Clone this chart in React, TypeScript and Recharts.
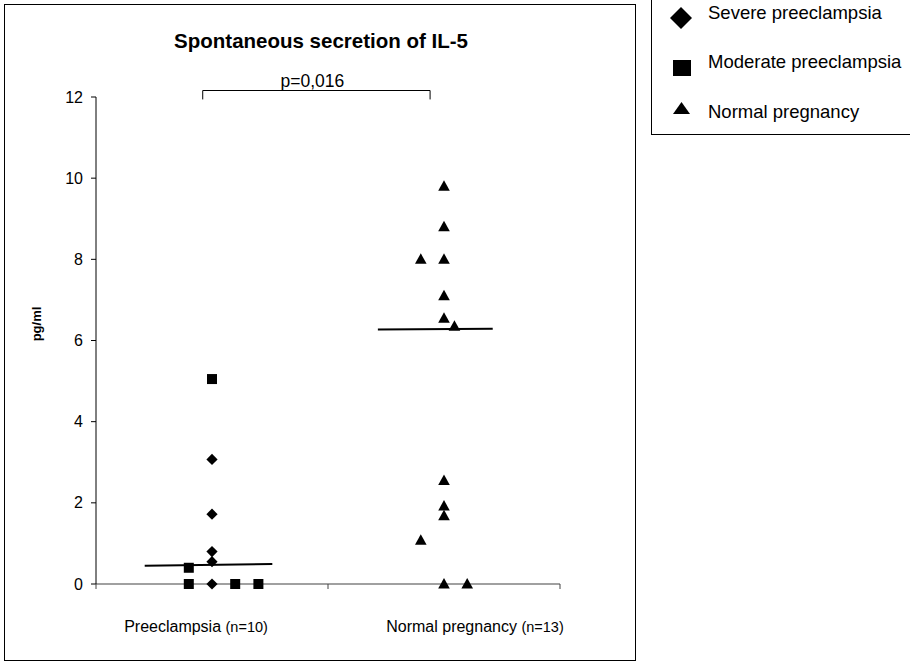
import React from 'react';
import { ScatterChart, Scatter, XAxis, YAxis, ReferenceLine } from 'recharts';

const FONT = '"Liberation Sans", Arial, Helvetica, sans-serif';

const categories = ['Preeclampsia', 'Normal pregnancy'];
const groupSizes = ['(n=10)', '(n=13)'];
const yTicks = [0, 2, 4, 6, 8, 10, 12];
const xTicks = [0, 0.5, 1, 1.5, 2];
const seriesNames = ['Severe preeclampsia', 'Moderate preeclampsia', 'Normal pregnancy'];
const titleText = 'Spontaneous secretion of IL-5';
const yLabel = 'pg/ml';
const pValue = 'p=0,016';

// group index, horizontal jitter within group (category units), value (pg/ml)
const severeGroup = [0, 0, 0, 0, 0];
const severeJitter = [0, 0, 0, 0, 0];
const severeValues = [3.07, 1.72, 0.8, 0.55, 0];

const moderateGroup = [0, 0, 0, 0, 0];
const moderateJitter = [0, -0.1, -0.1, 0.1, 0.2];
const moderateValues = [5.05, 0.4, 0, 0, 0];

const normalGroup = [1, 1, 1, 1, 1, 1, 1, 1, 1, 1, 1, 1, 1];
const normalJitter = [0, 0, -0.1, 0, 0, 0, 0.045, 0, 0, 0, -0.1, 0, 0.1];
const normalValues = [9.8, 8.8, 8.0, 8.0, 7.1, 6.55, 6.35, 2.55, 1.92, 1.68, 1.08, 0, 0];

// median lines: group, start/end jitter, value at start/end
const medianGroup = [0, 1];
const medianFrom = [-0.29, -0.285];
const medianTo = [0.26, 0.21];
const medianStart = [0.45, 6.27];
const medianEnd = [0.49, 6.29];

// significance bracket between groups
const bracketFrom = 0.46;
const bracketTo = 1.44;
const bracketTop = 12.16;
const bracketLeg = 11.94;

const toPoints = (g: number[], j: number[], v: number[]) =>
  v.map((val, i) => ({ x: g[i] + 0.5 + j[i], y: val }));

const severeData = toPoints(severeGroup, severeJitter, severeValues);
const moderateData = toPoints(moderateGroup, moderateJitter, moderateValues);
const normalData = toPoints(normalGroup, normalJitter, normalValues);

const DiamondShape = (p: any) => {
  const { cx, cy } = p;
  const r = 5.6;
  return <path d={`M${cx},${cy - r}L${cx + r},${cy}L${cx},${cy + r}L${cx - r},${cy}Z`} fill="#000" />;
};
const SquareShape = (p: any) => {
  const { cx, cy } = p;
  const s = 5;
  return <rect x={cx - s} y={cy - s} width={2 * s} height={2 * s} fill="#000" />;
};
const TriangleShape = (p: any) => {
  const { cx, cy } = p;
  return <path d={`M${cx},${cy - 6}L${cx + 5.8},${cy + 4.5}L${cx - 5.8},${cy + 4.5}Z`} fill="#000" />;
};

const XTick = (props: any) => {
  const { x, y, payload } = props;
  const v = payload.value;
  if (Number.isInteger(v)) {
    return <line x1={x} x2={x} y1={y} y2={y + 5} stroke="#444" strokeWidth={1} />;
  }
  const i = Math.floor(v);
  const dx = i === 0 ? -16 : 31;
  return (
    <text x={x + dx} y={y + 48} textAnchor="middle" fontFamily={FONT} fontSize={16} fill="#000">
      <tspan>{categories[i]} </tspan>
      <tspan fontSize={14.5}>{groupSizes[i]}</tspan>
    </text>
  );
};

const YTick = (props: any) => {
  const { x, y, payload } = props;
  return (
    <text x={x} y={y} dy={5.5} textAnchor="end" fontFamily={FONT} fontSize={16} fill="#000">
      {payload.value}
    </text>
  );
};

const PLabel = (props: any) => {
  const vb = props.viewBox || {};
  const cx = (vb.x ?? 0) + (vb.width ?? 0) / 2;
  return (
    <text x={cx - 4} y={(vb.y ?? 0) - 4} textAnchor="middle" fontFamily={FONT} fontSize={17.5} fill="#000">
      {pValue}
    </text>
  );
};

export default function App() {
  return (
    <div style={{ position: 'absolute', left: 0, top: 0, width: 910, height: 666, background: '#fff' }}>
      <ScatterChart width={910} height={666} margin={{ top: 97, right: 350, bottom: 52, left: 56 }}>
        <XAxis
          type="number"
          dataKey="x"
          domain={[0, 2]}
          ticks={xTicks}
          interval={0}
          tickSize={0}
          tickMargin={0}
          tickLine={false}
          axisLine={{ stroke: '#808080', strokeWidth: 1.5 }}
          tick={<XTick />}
          height={30}
        />
        <YAxis
          type="number"
          dataKey="y"
          domain={[0, 12]}
          ticks={yTicks}
          interval={0}
          width={40}
          tickSize={5}
          tickMargin={8}
          axisLine={{ stroke: '#000' }}
          tickLine={{ stroke: '#000' }}
          tick={<YTick />}
        />
        <ReferenceLine
          segment={[{ x: bracketFrom, y: bracketTop }, { x: bracketTo, y: bracketTop }]}
          stroke="#000"
          strokeWidth={1}
          ifOverflow="visible"
          label={<PLabel />}
        />
        <ReferenceLine
          segment={[{ x: bracketFrom, y: bracketTop }, { x: bracketFrom, y: bracketLeg }]}
          stroke="#000"
          strokeWidth={1}
          ifOverflow="visible"
        />
        <ReferenceLine
          segment={[{ x: bracketTo, y: bracketTop }, { x: bracketTo, y: bracketLeg }]}
          stroke="#000"
          strokeWidth={1}
          ifOverflow="visible"
        />
        {medianGroup.map((g, i) => (
          <ReferenceLine
            key={`m${i}`}
            segment={[
              { x: g + 0.5 + medianFrom[i], y: medianStart[i] },
              { x: g + 0.5 + medianTo[i], y: medianEnd[i] },
            ]}
            stroke="#000"
            strokeWidth={2}
            ifOverflow="visible"
          />
        ))}
        <Scatter name={seriesNames[0]} data={severeData} shape={DiamondShape} isAnimationActive={false} />
        <Scatter name={seriesNames[1]} data={moderateData} shape={SquareShape} isAnimationActive={false} />
        <Scatter name={seriesNames[2]} data={normalData} shape={TriangleShape} isAnimationActive={false} />
      </ScatterChart>
      <svg
        width={910}
        height={666}
        style={{ position: 'absolute', left: 0, top: 0, pointerEvents: 'none' }}
      >
        <rect x={4.5} y={4.5} width={631} height={656} fill="none" stroke="#000" strokeWidth={1} />
        <text x={321} y={48} textAnchor="middle" fontFamily={FONT} fontSize={20.5} fontWeight="bold" fill="#000">
          {titleText}
        </text>
        <text
          x={0}
          y={0}
          transform="translate(41,324) rotate(-90)"
          textAnchor="middle"
          fontFamily={FONT}
          fontSize={13}
          fontWeight="bold"
          fill="#000"
        >
          {yLabel}
        </text>
        <rect x={651.5} y={-2} width={270} height={136.5} fill="#fff" stroke="#000" strokeWidth={1} />
        <path d="M681,7L692,18L681,29L670,18Z" fill="#000" />
        <rect x={673} y={60} width={18} height={16} fill="#000" />
        <path d="M681.5,102L690,114L673,114Z" fill="#000" />
        <text x={708} y={19} fontFamily={FONT} fontSize={18.5} fill="#000">{seriesNames[0]}</text>
        <text x={708} y={68} fontFamily={FONT} fontSize={18.5} fill="#000">{seriesNames[1]}</text>
        <text x={708} y={118} fontFamily={FONT} fontSize={18.5} fill="#000">{seriesNames[2]}</text>
      </svg>
    </div>
  );
}
